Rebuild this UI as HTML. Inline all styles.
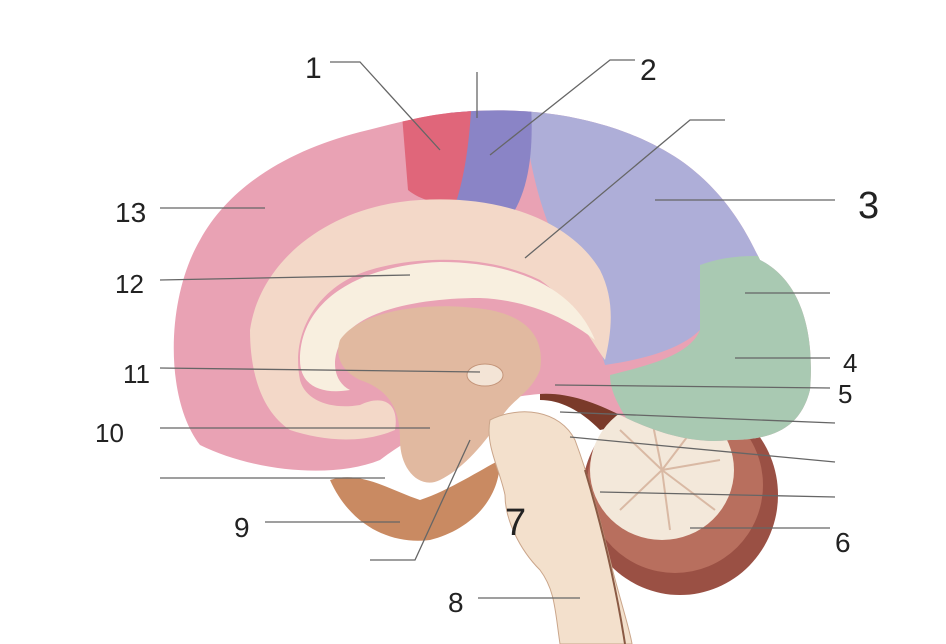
<!DOCTYPE html>
<html><head><meta charset="utf-8"><style>
html,body{margin:0;padding:0;background:#fff;width:946px;height:644px;overflow:hidden}
text{font-family:"Liberation Sans",sans-serif;fill:#222}
</style></head><body>
<svg width="946" height="644" viewBox="0 0 946 644" xmlns="http://www.w3.org/2000/svg">
<defs>
<clipPath id="br"><path d="M200,445 C165,400 165,300 200,240 C230,185 290,150 360,132 C400,122 430,114 460,112 C540,105 620,120 680,160 C730,195 750,240 760,260 C800,280 815,330 810,390 C800,430 770,440 730,440 C690,445 650,430 620,415 C590,400 560,390 530,395 C480,400 420,430 380,460 C330,480 250,470 200,445 Z"/></clipPath>
</defs>
<!-- dark area behind -->
<path d="M540,380 C580,370 620,380 650,420 L600,430 C580,410 560,400 540,400 Z" fill="#7a3a2a"/>
<!-- cerebellum -->
<ellipse cx="680" cy="495" rx="98" ry="100" fill="#9a5044"/>
<ellipse cx="675" cy="485" rx="88" ry="88" fill="#b86f5e"/>
<ellipse cx="662" cy="470" rx="72" ry="70" fill="#f3e8da"/>
<g stroke="#d9b9a4" stroke-width="2" fill="none">
<path d="M662,470 L620,430 M662,470 L650,410 M662,470 L700,420 M662,470 L720,460 M662,470 L715,510 M662,470 L670,530 M662,470 L620,510"/>
</g>
<g clip-path="url(#br)">
<rect x="0" y="0" width="946" height="644" fill="#e9a2b4"/>
<path d="M520,90 L800,90 L800,262 C740,262 700,290 700,330 C680,350 640,360 605,365 C595,330 580,280 560,250 C545,220 530,180 520,90 Z" fill="#aeaed8"/>
<path d="M450,90 L530,90 C535,150 530,200 500,230 C480,230 465,220 455,200 Z" fill="#8a84c6"/>
<path d="M400,90 L472,90 C470,150 462,185 455,205 C440,205 420,200 408,190 Z" fill="#e0667a"/>
<path d="M700,265 C740,250 790,255 830,270 L830,460 L650,460 C630,420 610,400 610,375 C650,365 690,355 700,330 Z" fill="#a9c9b2"/>
</g>
<!-- cingulate -->
<path d="M250,330 C260,260 330,205 420,200 C500,195 570,220 600,270 C615,300 612,330 605,360 C590,340 570,300 540,280 C490,255 420,255 370,270 C320,285 290,330 300,380 C305,400 330,410 360,405 C380,395 400,400 395,430 C360,445 320,440 290,430 C260,410 250,370 250,330 Z" fill="#f3d8c8"/>
<path d="M300,360 C300,300 360,265 440,262 C520,262 575,290 595,340 C570,320 530,300 480,298 C420,298 370,310 350,330 C330,350 330,380 350,390 C320,395 300,385 300,360 Z" fill="#f8efdf"/>
<path d="M340,340 C360,310 430,300 490,310 C530,318 545,340 540,370 C530,395 510,400 500,420 C480,450 460,470 440,480 C420,490 400,470 400,440 C400,410 390,390 360,380 C340,370 335,355 340,340 Z" fill="#e1b9a0"/>
<ellipse cx="485" cy="375" rx="18" ry="11" fill="#f3e4d6" stroke="#c4957a"/>
<path d="M330,480 C360,470 390,490 420,500 C450,490 480,470 500,460 C500,500 470,530 430,540 C390,545 350,525 330,480 Z" fill="#c98a62"/>
<path d="M490,420 C520,405 560,410 575,440 C590,480 600,520 610,560 C620,600 630,630 632,644 L560,644 C555,610 555,590 540,570 C520,550 505,520 505,495 C500,470 485,445 490,420 Z" fill="#f3e0cc" stroke="#caa58a"/>
<path d="M585,470 C600,520 615,580 625,644" fill="none" stroke="#8a5a44" stroke-width="2"/>
<g stroke="#666" stroke-width="1.3" fill="none">
<path d="M330,62 L360,62 L440,150"/>
<path d="M477,72 L477,118"/>
<path d="M635,60 L610,60 L490,155"/>
<path d="M725,120 L690,120 L525,258"/>
<path d="M835,200 L655,200"/>
<path d="M830,293 L745,293"/>
<path d="M830,358 L735,358"/>
<path d="M830,388 L555,385"/>
<path d="M835,423 L560,412"/>
<path d="M835,462 L570,437"/>
<path d="M835,497 L600,492"/>
<path d="M830,528 L690,528"/>
<path d="M478,598 L580,598"/>
<path d="M370,560 L415,560 L470,440"/>
<path d="M265,522 L400,522"/>
<path d="M160,478 L385,478"/>
<path d="M160,428 L430,428"/>
<path d="M160,368 L480,372"/>
<path d="M160,280 L410,275"/>
<path d="M160,208 L265,208"/>
</g>
<g font-size="30">
<text x="305" y="78">1</text>
<text x="640" y="80">2</text>
<text x="858" y="218" font-size="38">3</text>
<text x="843" y="372" font-size="26">4</text>
<text x="838" y="403" font-size="26">5</text>
<text x="835" y="552" font-size="28">6</text>
<text x="505" y="535" font-size="38">7</text>
<text x="448" y="612" font-size="28">8</text>
<text x="234" y="537" font-size="28">9</text>
<text x="95" y="442" font-size="26">10</text>
<text x="123" y="383" font-size="26">11</text>
<text x="115" y="293" font-size="26">12</text>
<text x="115" y="222" font-size="28">13</text>
</g>
</svg>
</body></html>
